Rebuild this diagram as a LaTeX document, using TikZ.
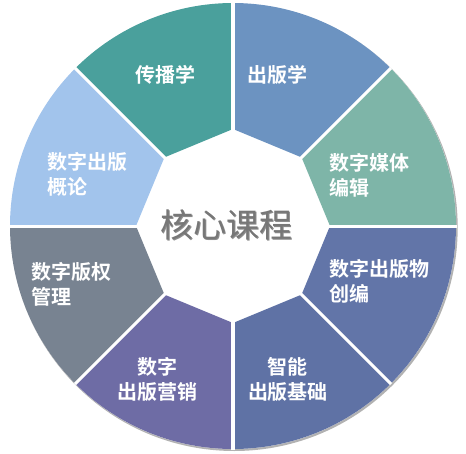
\documentclass[tikz,border=0pt]{standalone}
\usepackage{fontspec}
\newfontfamily\cjkfont{Noto Sans CJK SC}[BoldFont={Noto Sans CJK SC Bold}]
\usepackage{xcolor}
\definecolor{chuanbo}{HTML}{4AA09C}
\definecolor{chuban}{HTML}{6C93C1}
\definecolor{meiti}{HTML}{7EB5A8}
\definecolor{chuangbian}{HTML}{6275A8}
\definecolor{zhineng}{HTML}{5F72A5}
\definecolor{yingxiao}{HTML}{6E6CA5}
\definecolor{banquan}{HTML}{788391}
\definecolor{gailun}{HTML}{A2C4EC}
\definecolor{coregray}{HTML}{777777}
\tikzset{
  coursetext/.style={text=white,inner sep=0pt,
    font=\cjkfont\bfseries\fontsize{20}{25}\selectfont},
}
\newcommand{\coresector}[2]{%
  \fill[#2] (#1:97pt) -- (#1:223pt) arc[start angle=#1,delta angle=45,radius=223pt]
        -- (#1+45:97pt) -- cycle;
}

\begin{document}
\begin{tikzpicture}
  \useasboundingbox (-233pt,-227pt) rectangle (233pt,226pt);
  % soft rim below the ring
  \fill[black!30] (1.2pt,-1.5pt) circle[radius=223.5pt];
  \fill[white] (0,0) circle[radius=223pt];
  \coresector{0}{meiti}
  \coresector{45}{chuban}
  \coresector{90}{chuanbo}
  \coresector{135}{gailun}
  \coresector{180}{banquan}
  \coresector{225}{yingxiao}
  \coresector{270}{zhineng}
  \coresector{315}{chuangbian}
  \foreach \a in {0,45,...,315}
    \draw[white,line width=3pt] (\a:90pt) -- (\a:223.5pt);
  % labels
  \node[coursetext] (chuanbolbl) at (-67pt,151pt) {传播学};
  \node[coursetext] (chubanlbl) at (44pt,151pt) {出版学};
  \node[coursetext,anchor=west,align=left] (meitilbl) at (96pt,50.5pt) {数字媒体\\编辑};
  \node[coursetext,anchor=west,align=left] (chuangbianlbl) at (96pt,-55pt) {数字出版物\\创编};
  \node[coursetext,align=center] (zhinenglbl) at (55pt,-153.5pt) {智能\\出版基础};
  \node[coursetext,align=center] (yingxiaolbl) at (-75pt,-153.5pt) {数字\\出版营销};
  \node[coursetext,anchor=west,align=left] (banquanlbl) at (-202pt,-58pt) {数字版权\\管理};
  \node[coursetext,anchor=west,align=left] (gailunlbl) at (-186pt,51.5pt) {数字出版\\概论};
  \node[text=black!45,font=\cjkfont\fontsize{33}{36}\selectfont] (coreshade) at (-5.3pt,0.3pt) {核心课程};
  \node[text=coregray,font=\cjkfont\fontsize{33}{36}\selectfont] (core) at (-6pt,1pt) {核心课程};
\end{tikzpicture}
\end{document}
